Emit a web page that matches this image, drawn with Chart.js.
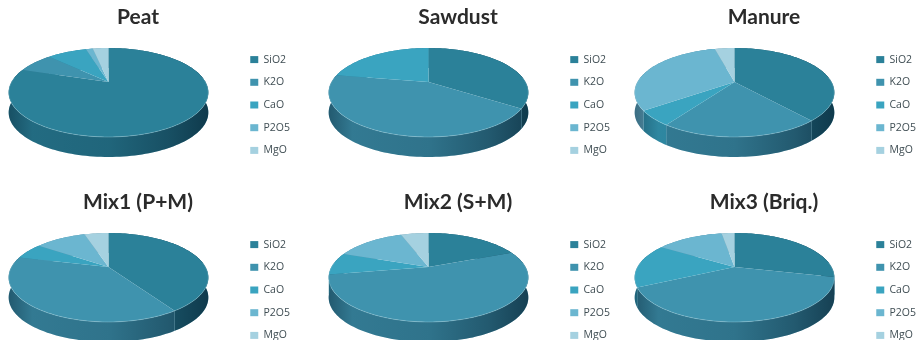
<!DOCTYPE html>
<html>
<head>
<meta charset="utf-8">
<title>Ash composition</title>
<script src="https://cdn.jsdelivr.net/npm/chart.js@4"></script>
<style>
  html, body { margin: 0; padding: 0; background: #fff; }
  #page { position: relative; width: 920px; height: 340px; overflow: hidden; }
  #page canvas { position: absolute; filter: blur(0.7px); }
</style>
</head>
<body>
<div id="page"></div>
<script>
const components = ['SiO2', 'K2O', 'CaO', 'P2O5', 'MgO'];
const titles = ['Peat', 'Sawdust', 'Manure', 'Mix1 (P+M)', 'Mix2 (S+M)', 'Mix3 (Briq.)'];

const peat = [80, 7.4, 8, 1.4, 3.2];
const sawdust = [34.3, 43.4, 22.3, 0, 0];
const manure = [38.7, 20.9, 5.4, 31, 4];
const mix1 = [40.8, 38, 6, 10.3, 4.9];
const mix2 = [19, 53.3, 8.1, 14, 5.6];
const mix3 = [28.6, 39.2, 16.1, 13.5, 2.6];

const sliceColors = ['#2b8199', '#3f93ae', '#3aa4c0', '#6bb6d0', '#a5d1e0'];

// pie look: tilted disc seen in perspective, apex sits above the ellipse centre
const pieShape = { rx: 97, ry: 42, k: 0.236, depth: 20, apexX: 132.5, apexY: 82 };

function rimPoints(start, end) {
    const s = pieShape;
    const pts = [];
    const n = Math.max(2, Math.ceil((end - start) / 0.03));
    for (let i = 0; i <= n; i++) {
        const a = start + (end - start) * i / n;
        const w = 1 - s.k * Math.sin(a);
        pts.push([s.apexX + s.rx * Math.cos(a) / w, s.apexY + s.ry * Math.sin(a) / w]);
    }
    return pts;
}

const pie3d = {
    id: 'pie3d',
    beforeDatasetsDraw(chart) {
        const ctx = chart.ctx;
        const s = pieShape;
        const arcs = chart.getDatasetMeta(0).data;
        const colors = chart.data.datasets[0].backgroundColor;

        // side wall first, darkens towards the right
        const shade = ctx.createLinearGradient(s.apexX - 100, 0, s.apexX + 100, 0);
        shade.addColorStop(0, 'rgba(0,20,35,0.45)');
        shade.addColorStop(0.12, 'rgba(0,20,35,0.2)');
        shade.addColorStop(0.5, 'rgba(0,20,35,0.25)');
        shade.addColorStop(0.8, 'rgba(0,20,35,0.45)');
        shade.addColorStop(1, 'rgba(0,20,35,0.65)');
        arcs.forEach((arc, i) => {
            if (arc.endAngle - arc.startAngle <= 0) return;
            const top = rimPoints(arc.startAngle, arc.endAngle);
            ctx.beginPath();
            top.forEach((p, j) => j ? ctx.lineTo(p[0], p[1]) : ctx.moveTo(p[0], p[1]));
            top.slice().reverse().forEach(p => ctx.lineTo(p[0], p[1] + s.depth));
            ctx.closePath();
            ctx.fillStyle = colors[i];
            ctx.fill();
            ctx.fillStyle = shade;
            ctx.fill();
        });

        // top face
        arcs.forEach((arc, i) => {
            if (arc.endAngle - arc.startAngle <= 0) return;
            ctx.beginPath();
            ctx.moveTo(s.apexX, s.apexY);
            rimPoints(arc.startAngle, arc.endAngle).forEach(p => ctx.lineTo(p[0], p[1]));
            ctx.closePath();
            ctx.fillStyle = colors[i];
            ctx.fill();
        });

        // light edge along the front of the disc
        ctx.beginPath();
        rimPoints(-0.1, Math.PI + 0.1).forEach((p, j) => j ? ctx.lineTo(p[0], p[1]) : ctx.moveTo(p[0], p[1]));
        ctx.strokeStyle = 'rgba(190,230,240,0.3)';
        ctx.lineWidth = 1;
        ctx.stroke();
        return false;
    }
};

function drawPanel(title, values, left, top) {
    const canvas = document.createElement('canvas');
    canvas.width = 324;
    canvas.height = 210;
    canvas.style.left = left + 'px';
    canvas.style.top = top + 'px';
    document.getElementById('page').appendChild(canvas);

    new Chart(canvas.getContext('2d'), {
        type: 'pie',
        data: {
            labels: components,
            datasets: [{ data: values, backgroundColor: sliceColors, borderWidth: 0 }]
        },
        options: {
            responsive: false,
            animation: false,
            plugins: {
                title: {
                    display: true,
                    text: title,
                    color: '#2b2b2b',
                    font: { family: 'Lato', size: 21, weight: 'bold' },
                    padding: { top: 5, bottom: 5 }
                },
                legend: {
                    position: 'right',
                    labels: {
                        boxWidth: 8,
                        boxHeight: 7,
                        padding: 12.2,
                        color: '#3f4d53',
                        font: { family: 'Open Sans', size: 10.5 }
                    }
                },
                tooltip: { enabled: false }
            }
        },
        plugins: [pie3d]
    });
}

const values = [peat, sawdust, manure, mix1, mix2, mix3];
const lefts = [-24, 296, 602];
titles.forEach((t, i) => {
    drawPanel(t, values[i], lefts[i % 3], i < 3 ? 0 : 185);
});
</script>
</body>
</html>
